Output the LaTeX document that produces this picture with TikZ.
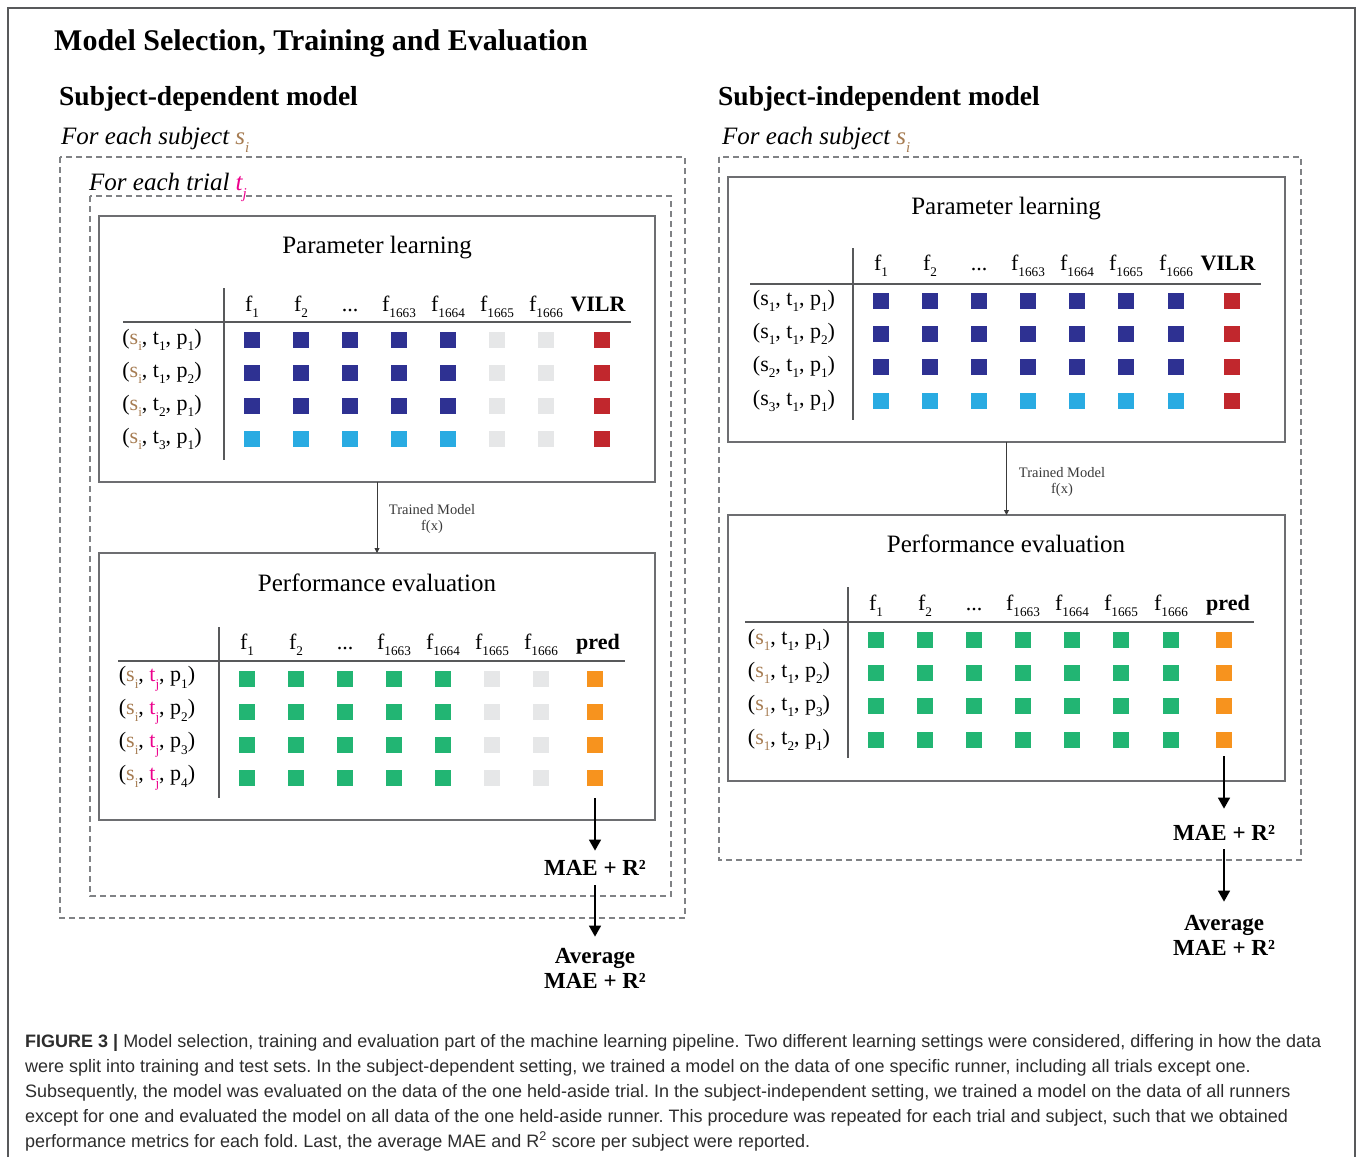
\documentclass[tikz,border=0pt]{standalone}
\usepackage{fontspec}
\usepackage{graphicx}
\setmainfont{Liberation Serif}
\newfontfamily\capfont{Liberation Sans}
\usetikzlibrary{arrows.meta}
\frenchspacing
\definecolor{dblue}{HTML}{2E3192}
\definecolor{lblue}{HTML}{29ABE2}
\definecolor{vred}{HTML}{C1272D}
\definecolor{lgray}{HTML}{E6E7E8}
\definecolor{sgreen}{HTML}{22B573}
\definecolor{sorange}{HTML}{F7931E}
\definecolor{sbrown}{HTML}{A67C52}
\definecolor{tpink}{HTML}{EC008C}
\definecolor{framegray}{HTML}{58595B}
\definecolor{boxgray}{HTML}{6D6E71}
\definecolor{dashgray}{HTML}{808285}
\definecolor{linegray}{HTML}{58595B}
\definecolor{tmgray}{HTML}{3A3A3A}
\definecolor{captext}{HTML}{2D2D2D}
\newcommand\lsb[1]{\raisebox{-0.3em}{\scalebox{0.6}{#1}}}
\newcommand\isb[1]{\raisebox{-0.35em}{\scalebox{0.6}{#1}}}
\newcommand\si{\textcolor{sbrown}{s\lsb{i}}}
\newcommand\sone{\textcolor{sbrown}{s\lsb{1}}}
\newcommand\tj{\textcolor{tpink}{t\lsb{j}}}
\newcommand\mydots{...}
\tikzset{
 sq/.style={minimum size=16pt, inner sep=0pt, outer sep=0pt, draw=none},
 boxframe/.style={draw=boxgray, line width=1.4pt, inner sep=0pt, outer sep=0pt},
 dbox/.style={draw=dashgray, line width=1.3pt, dash pattern=on 6pt off 4pt},
 tline/.style={draw=linegray, line width=1.3pt},
 colh/.style={font=\fontsize{22}{26}\selectfont, anchor=base, inner sep=0pt},
 colhb/.style={font=\fontsize{22}{26}\selectfont\bfseries, anchor=base, inner sep=0pt},
 rowl/.style={font=\fontsize{22}{26}\selectfont, anchor=center, inner sep=0pt},
 boxttl/.style={font=\fontsize{25}{30}\selectfont, anchor=base, inner sep=0pt},
 tmlbl/.style={font=\fontsize{14.5}{16}\selectfont, align=center, text=tmgray, inner sep=0pt},
 res/.style={font=\fontsize{23}{27}\selectfont\bfseries, anchor=base, inner sep=0pt},
 bigarr/.style={line width=1.5pt, -{Triangle[length=11pt,width=12pt]}},
 smallarr/.style={line width=0.9pt, draw=tmgray, -{Triangle[length=5pt,width=5pt]}},
 capt/.style={font=\capfont\fontsize{18}{25}\selectfont, anchor=base west, inner sep=0pt, text=captext},
 ttl/.style={font=\fontsize{30}{36}\selectfont\bfseries, anchor=base west, inner sep=0pt},
 subttl/.style={font=\fontsize{27.5}{32}\selectfont\bfseries, anchor=base west, inner sep=0pt},
 itl/.style={font=\fontsize{25}{30}\selectfont\itshape, anchor=base west, inner sep=0pt},
}
\begin{document}
\begin{tikzpicture}[x=1pt,y=-1pt]
\useasboundingbox (0,0) rectangle (1357,1157);
% outer frame
\draw[draw=framegray, line width=1.3pt] (8,1157) -- (8,8) -- (1355,8) -- (1355,1157);

% titles
\node[ttl] (title) at (54,50) {Model Selection, Training and Evaluation};
\node[subttl] (stA) at (59,105) {Subject-dependent model};
\node[subttl] (stB) at (718,105) {Subject-independent model};
\node[itl] (feA) at (61,144) {For each subject \textcolor{sbrown}{s\isb{i}}};
\node[itl] (feB) at (722,144) {For each subject \textcolor{sbrown}{s\isb{i}}};
\node[itl] (ftA) at (89,190) {For each trial \textcolor{tpink}{t\isb{j}}};

% dashed frames
\draw[dbox] (60,157) rectangle (685,918);
\draw[dbox] (90,196) rectangle (671,896);
\draw[dbox] (719,157) rectangle (1301,860);

% solid boxes
\node[boxframe, minimum width=556pt, minimum height=266pt] (plA) at (377,349) {};
\node[boxframe, minimum width=556pt, minimum height=267pt] (peA) at (377,686.5) {};
\node[boxframe, minimum width=557pt, minimum height=265pt] (plB) at (1006.5,309.5) {};
\node[boxframe, minimum width=557pt, minimum height=266pt] (peB) at (1006.5,648) {};

\node[boxttl] (plAt) at (377,253) {Parameter learning};
\node[boxttl] (peAt) at (377,591) {Performance evaluation};
\node[boxttl] (plBt) at (1006,214) {Parameter learning};
\node[boxttl] (peBt) at (1006,552) {Performance evaluation};

% table lines
\draw[tline] (224,288) -- (224,460);
\draw[tline] (123,322) -- (631,322);
\draw[tline] (219,627) -- (219,798);
\draw[tline] (118,661) -- (625,661);
\draw[tline] (853,248) -- (853,420);
\draw[tline] (750,284) -- (1261,284);
\draw[tline] (848,587) -- (848,758);
\draw[tline] (745,622) -- (1254,622);

% ---------- Left top table ----------
\foreach \x/\t [count=\c] in {252/f\lsb{1},301/f\lsb{2},350/\mydots,399/f\lsb{1663},448/f\lsb{1664},497/f\lsb{1665},546/f\lsb{1666}}{
  \node[colh] (hA\c) at (\x,311) {\t};
}
\node[colhb] (hA8) at (598,311) {VILR};
\node[rowl] (rA1) at (162,340) {(\si, t\lsb{1}, p\lsb{1})};
\node[rowl] (rA2) at (162,373) {(\si, t\lsb{1}, p\lsb{2})};
\node[rowl] (rA3) at (162,406) {(\si, t\lsb{2}, p\lsb{1})};
\node[rowl] (rA4) at (162,439) {(\si, t\lsb{3}, p\lsb{1})};
\foreach \x [count=\c] in {252,301,350,399,448,497,546,602}{
  \foreach \y [count=\r] in {340,373,406,439}{
    \ifnum\c=8 \def\cc{vred}\else\ifnum\c>5 \def\cc{lgray}\else\ifnum\r=4 \def\cc{lblue}\else\def\cc{dblue}\fi\fi\fi
    \node[sq,fill=\cc] (A-\r-\c) at (\x,\y) {};
  }
}

% ---------- Left bottom table ----------
\foreach \x/\t [count=\c] in {247/f\lsb{1},296/f\lsb{2},345/\mydots,394/f\lsb{1663},443/f\lsb{1664},492/f\lsb{1665},541/f\lsb{1666}}{
  \node[colh] (hB\c) at (\x,649) {\t};
}
\node[colhb] (hB8) at (598,649) {pred};
\node[rowl] (rB1) at (157,679) {(\si, \tj, p\lsb{1})};
\node[rowl] (rB2) at (157,712) {(\si, \tj, p\lsb{2})};
\node[rowl] (rB3) at (157,745) {(\si, \tj, p\lsb{3})};
\node[rowl] (rB4) at (157,778) {(\si, \tj, p\lsb{4})};
\foreach \x [count=\c] in {247,296,345,394,443,492,541,595}{
  \foreach \y [count=\r] in {679,712,745,778}{
    \ifnum\c=8 \def\cc{sorange}\else\ifnum\c>5 \def\cc{lgray}\else\def\cc{sgreen}\fi\fi
    \node[sq,fill=\cc] (B-\r-\c) at (\x,\y) {};
  }
}

% ---------- Right top table ----------
\foreach \x/\t [count=\c] in {881/f\lsb{1},930/f\lsb{2},979/\mydots,1028/f\lsb{1663},1077/f\lsb{1664},1126/f\lsb{1665},1176/f\lsb{1666}}{
  \node[colh] (hC\c) at (\x,270) {\t};
}
\node[colhb] (hC8) at (1228,270) {VILR};
\node[rowl] (rC1) at (794,301) {(s\lsb{1}, t\lsb{1}, p\lsb{1})};
\node[rowl] (rC2) at (794,334) {(s\lsb{1}, t\lsb{1}, p\lsb{2})};
\node[rowl] (rC3) at (794,367) {(s\lsb{2}, t\lsb{1}, p\lsb{1})};
\node[rowl] (rC4) at (794,401) {(s\lsb{3}, t\lsb{1}, p\lsb{1})};
\foreach \x [count=\c] in {881,930,979,1028,1077,1126,1176,1232}{
  \foreach \y [count=\r] in {301,334,367,401}{
    \ifnum\c=8 \def\cc{vred}\else\ifnum\r=4 \def\cc{lblue}\else\def\cc{dblue}\fi\fi
    \node[sq,fill=\cc] (C-\r-\c) at (\x,\y) {};
  }
}

% ---------- Right bottom table ----------
\foreach \x/\t [count=\c] in {876/f\lsb{1},925/f\lsb{2},974/\mydots,1023/f\lsb{1663},1072/f\lsb{1664},1121/f\lsb{1665},1171/f\lsb{1666}}{
  \node[colh] (hD\c) at (\x,610) {\t};
}
\node[colhb] (hD8) at (1228,610) {pred};
\node[rowl] (rD1) at (789,640) {(\sone, t\lsb{1}, p\lsb{1})};
\node[rowl] (rD2) at (789,673) {(\sone, t\lsb{1}, p\lsb{2})};
\node[rowl] (rD3) at (789,706) {(\sone, t\lsb{1}, p\lsb{3})};
\node[rowl] (rD4) at (789,740) {(\sone, t\lsb{2}, p\lsb{1})};
\foreach \x [count=\c] in {876,925,974,1023,1072,1121,1171,1224}{
  \foreach \y [count=\r] in {640,673,706,740}{
    \ifnum\c=8 \def\cc{sorange}\else\def\cc{sgreen}\fi
    \node[sq,fill=\cc] (D-\r-\c) at (\x,\y) {};
  }
}

% trained model arrows
\draw[smallarr] (plA.south) -- (peA.north);
\node[tmlbl] (tmA) at (432,519) {Trained Model\\f(x)};
\draw[smallarr] (plB.south) -- (peB.north);
\node[tmlbl] (tmB) at (1062,482) {Trained Model\\f(x)};

% results left
\node[res] (maeA) at (595,875) {MAE + R²};
\node[res] (avgA) at (595,963) {Average};
\node[res] (avgA2) at (595,988) {MAE + R²};
\draw[bigarr, shorten <=12pt, shorten >=9pt] (B-4-8.south) -- (maeA.north);
\draw[bigarr, shorten <=10pt, shorten >=11pt] (maeA.south) -- (avgA.north);

% results right
\node[res] (maeB) at (1224,840) {MAE + R²};
\node[res] (avgB) at (1224,930) {Average};
\node[res] (avgB2) at (1224,955) {MAE + R²};
\draw[bigarr, shorten <=8pt, shorten >=16pt] (D-4-8.south) -- (maeB.north);
\draw[bigarr, shorten <=9pt, shorten >=13pt] (maeB.south) -- (avgB.north);

% caption
\node[capt] (cap1) at (25,1047) {\textbf{FIGURE 3 |} Model selection, training and evaluation part of the machine learning pipeline. Two different learning settings were considered, differing in how the data};
\node[capt] (cap2) at (25,1072) {were split into training and test sets. In the subject-dependent setting, we trained a model on the data of one specific runner, including all trials except one.};
\node[capt] (cap3) at (25,1097) {Subsequently, the model was evaluated on the data of the one held-aside trial. In the subject-independent setting, we trained a model on the data of all runners};
\node[capt] (cap4) at (25,1122) {except for one and evaluated the model on all data of the one held-aside runner. This procedure was repeated for each trial and subject, such that we obtained};
\node[capt] (cap5) at (25,1147) {performance metrics for each fold. Last, the average MAE and R\textsuperscript{2} score per subject were reported.};
\end{tikzpicture}
\end{document}
